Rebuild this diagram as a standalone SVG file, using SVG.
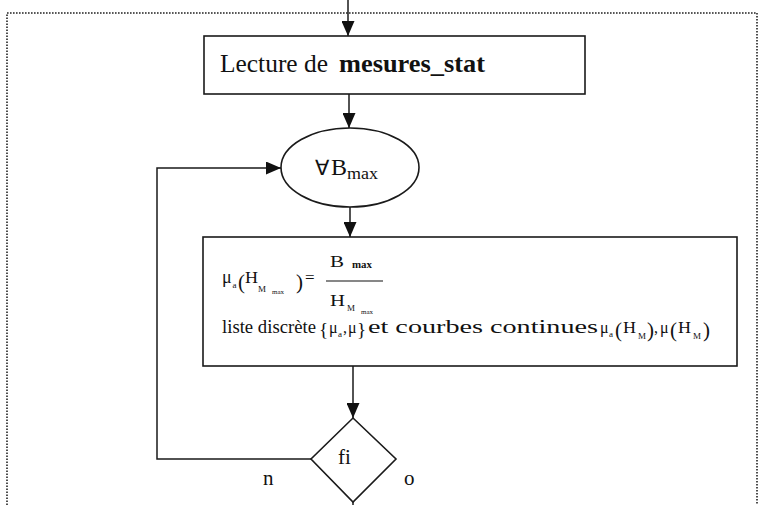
<svg xmlns="http://www.w3.org/2000/svg" width="761" height="505" viewBox="0 0 761 505" font-family="'Liberation Serif', 'Times New Roman', serif">
<defs>
<style>
.ln{fill:none;stroke:#1a1a1a;stroke-width:1.5}
.nd{fill:#fff;stroke:#1a1a1a;stroke-width:1.6}
.dot{fill:none;stroke:#222;stroke-width:1.6;stroke-dasharray:1.6 1.4}
.tx{font-family:'Liberation Serif','Times New Roman',serif;fill:#111}
.t18{font-size:18px}
.sub{font-size:9px}
.ss{font-size:7px}
.par{font-size:21px}
</style>
<marker id="ah" viewBox="0 0 15 13" refX="15" refY="6.5" markerWidth="15" markerHeight="13" markerUnits="userSpaceOnUse" orient="auto">
<path d="M0,0 L15,6.5 L0,13 Z" fill="#111"/>
</marker>
</defs>
<rect width="761" height="505" fill="#fff"/>
<path class="dot" d="M7,505 V13 H757 V505"/>
<g id="connectors">
<path class="ln" d="M348,0 V36" marker-end="url(#ah)"/>
<path class="ln" d="M349,94 V128" marker-end="url(#ah)"/>
<path class="ln" d="M350,207 V237" marker-end="url(#ah)"/>
<path class="ln" d="M353,366 V418" marker-end="url(#ah)"/>
<path class="ln" d="M311,459 H157 V168 H281" marker-end="url(#ah)"/>
<path class="ln" d="M353,502 V505"/>
<text class="tx" x="263" y="485" font-size="21">n</text>
<text class="tx" x="404" y="485" font-size="21">o</text>
</g>
<g id="lecture">
<rect class="nd" x="204" y="36" width="381" height="58"/>
<text class="tx" x="220" y="72" font-size="25" textLength="108" lengthAdjust="spacingAndGlyphs">Lecture de</text>
<text class="tx" x="339" y="72" font-size="25" font-weight="bold" textLength="146" lengthAdjust="spacingAndGlyphs">mesures_stat</text>
</g>
<g id="boucle">
<ellipse class="nd" cx="350" cy="167.5" rx="69" ry="39.5"/>
<text class="tx" x="315" y="175" font-size="21">∀</text>
<text class="tx" x="331" y="175" font-size="24">B</text>
<text class="tx" x="347" y="179" font-size="16" textLength="31" lengthAdjust="spacingAndGlyphs">max</text>
</g>
<g id="calcul">
<rect class="nd" x="203" y="237" width="534" height="129"/>
<text class="tx t18" x="222" y="283">μ</text>
<text class="tx sub" x="232.5" y="288">a</text>
<text class="tx par" x="238" y="289">(</text>
<text class="tx" x="245" y="283" font-size="17" textLength="13" lengthAdjust="spacingAndGlyphs">H</text>
<text class="tx sub" x="258" y="292">M</text>
<text class="tx ss" x="272" y="294">max</text>
<text class="tx par" x="296" y="289">)</text>
<text class="tx" x="305" y="283" font-size="17">=</text>
<line x1="326" y1="281" x2="383" y2="281" stroke="#111" stroke-width="1.2"/>
<text class="tx" x="330" y="267" font-size="17" textLength="14" lengthAdjust="spacingAndGlyphs">B</text>
<text class="tx" x="352" y="268" font-size="10" font-weight="bold" textLength="20" lengthAdjust="spacingAndGlyphs">max</text>
<text class="tx" x="330" y="306" font-size="17" textLength="15" lengthAdjust="spacingAndGlyphs">H</text>
<text class="tx sub" x="347" y="311">M</text>
<text class="tx ss" x="361" y="314">max</text>
<text class="tx t18" x="222" y="333" textLength="94" lengthAdjust="spacingAndGlyphs">liste discrète</text>
<text class="tx" x="319" y="336" font-size="19">{</text>
<text class="tx" x="329" y="333" font-size="16">μ</text>
<text class="tx sub" x="338" y="337">a</text>
<text class="tx" x="343" y="333" font-size="16">,</text>
<text class="tx" x="348" y="333" font-size="16">μ</text>
<text class="tx" x="357" y="336" font-size="19">}</text>
<text class="tx t18" x="368" y="333" textLength="230" lengthAdjust="spacingAndGlyphs">et courbes continues</text>
<text class="tx" x="600" y="333" font-size="16">μ</text>
<text class="tx sub" x="609" y="337">a</text>
<text class="tx par" x="615" y="337">(</text>
<text class="tx" x="623" y="333" font-size="16" textLength="13" lengthAdjust="spacingAndGlyphs">H</text>
<text class="tx sub" x="638" y="339">M</text>
<text class="tx par" x="647" y="337">)</text>
<text class="tx" x="654" y="333" font-size="16">,</text>
<text class="tx" x="660" y="333" font-size="16">μ</text>
<text class="tx par" x="670" y="337">(</text>
<text class="tx" x="678" y="333" font-size="16" textLength="13" lengthAdjust="spacingAndGlyphs">H</text>
<text class="tx sub" x="693" y="339">M</text>
<text class="tx par" x="703" y="337">)</text>
</g>
<g id="fin">
<polygon class="nd" points="353,418 396,459 353,502 311,459"/>
<text class="tx" x="338" y="464" font-size="21">fi</text>
</g>
</svg>
